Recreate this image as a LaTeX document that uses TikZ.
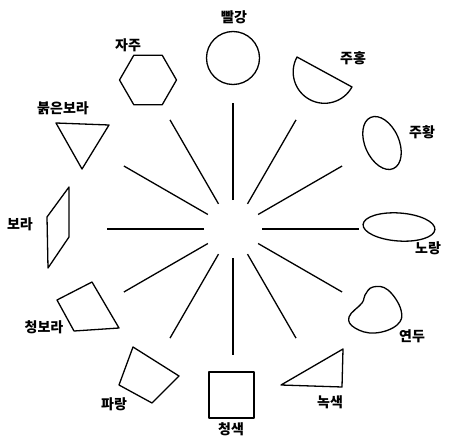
\documentclass[tikz,border=0pt]{standalone}
\usepackage{fontspec}
\usetikzlibrary{calc}
\newfontfamily\kfont{Noto Sans CJK KR}
\begin{document}
\begin{tikzpicture}[
        x=1pt, y=1pt,
        shape line/.style={draw, line width=1.3pt, line join=round},
        ray/.style={line width=1.3pt},
        label/.style={font=\kfont\bfseries\fontsize{14}{16}\selectfont, inner sep=0pt}
    ]
    \useasboundingbox[fill=white] (0,0) rectangle (449,437);

    % Rays: 12 directions, every 30 degrees
    \coordinate (hub) at (233,208);
    \foreach \a in {0,30,...,330}
        \draw[ray] ($(hub)+(\a:29)$) -- ($(hub)+(\a:126)$);

    % Shapes, clockwise from the top
    \draw[shape line] (233,379) circle[radius=26.5];
    \draw[shape line] (297,380) arc[start angle=151.4, end angle=331.4, radius=31.3] -- cycle;
    \draw[shape line] (382,294) ellipse[x radius=28, y radius=17, rotate=-66];
    \draw[shape line] (399,210) ellipse[x radius=36, y radius=14, rotate=-4];
    \draw[shape line] plot[smooth cycle, tension=0.7] coordinates
        {(373,150) (388,147) (401,127) (397,112) (375,104) (355,109) (349,120) (362,134) (365,142)};
    \draw[shape line] (281,52) -- (343,88) -- (342,50) -- cycle;
    \draw[shape line] (209,19) rectangle (254,65);
    \draw[shape line] (133,90) -- (179,61) -- (152,34) -- (119,52) -- cycle;
    \draw[shape line] (57,137) -- (92,155) -- (119,109) -- (74,106) -- cycle;
    \draw[shape line] (69,250) -- (69,200) -- (48,169) -- (47,220) -- cycle;
    \draw[shape line] (56,314) -- (109,312) -- (82,268) -- cycle;
    \draw[shape line] (148,357) +(0:28.5) -- +(60:28.5) -- +(120:28.5)
        -- +(180:28.5) -- +(240:28.5) -- +(300:28.5) -- cycle;

    % Labels
    \node[label] (red) at (234,420) {빨강};
    \node[label] (redorange) at (353,379) {주홍};
    \node[label] (orange) at (422,305) {주황};
    \node[label] (yellow) at (428,189) {노랑};
    \node[label] (yellowgreen) at (412,101) {연두};
    \node[label] (green) at (330,35) {녹색};
    \node[label] (blue) at (231,8) {청색};
    \node[label] (navy) at (114,33) {파랑};
    \node[label] (bluepurple) at (44,110) {청보라};
    \node[label] (purple) at (20,213) {보라};
    \node[label] (redpurple) at (63,329) {붉은보라};
    \node[label] (magenta) at (128,392) {자주};

\end{tikzpicture}
\end{document}
